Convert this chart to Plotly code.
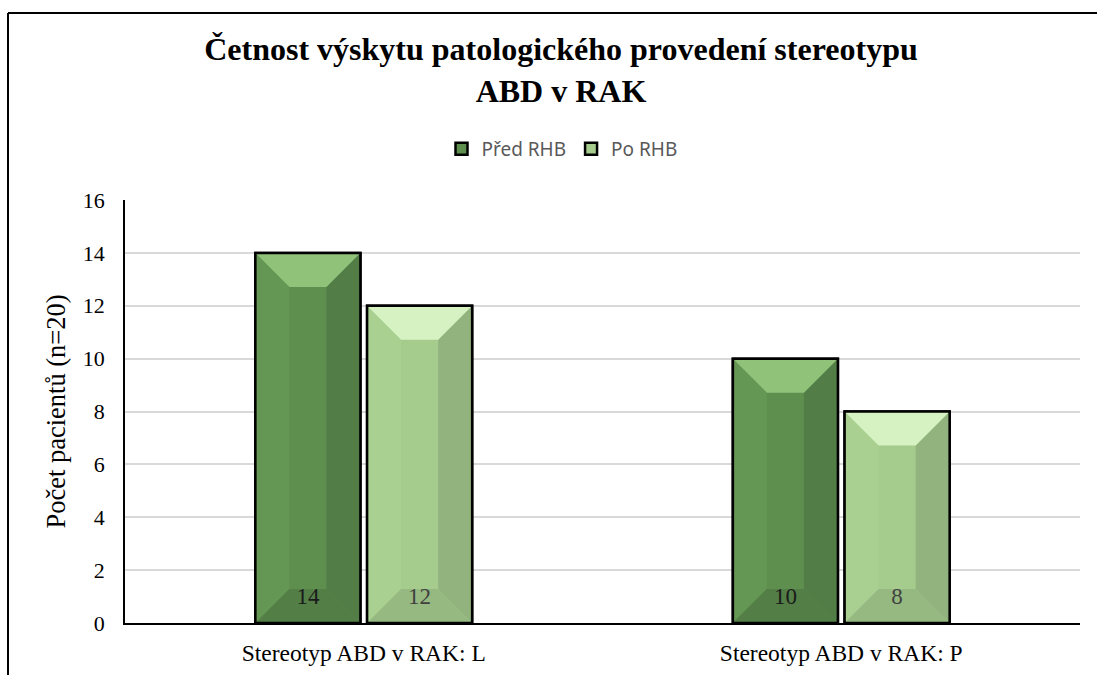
import plotly.graph_objects as go

# ---- data ----
categories = ["Stereotyp ABD v RAK: L", "Stereotyp ABD v RAK: P"]
series_names = ["Před RHB", "Po RHB"]
pred_rhb = [14, 10]
po_rhb = [12, 8]
y_ticks = [0, 2, 4, 6, 8, 10, 12, 14, 16]

# ---- geometry ----
W, H = 1097, 675
MARGIN = dict(l=125, r=17, t=200, b=52, pad=0)
PLOT_W = W - MARGIN["l"] - MARGIN["r"]
PLOT_H = H - MARGIN["t"] - MARGIN["b"]
X_MIN, X_MAX = -0.5, len(categories) - 0.5
Y_MIN, Y_MAX = 0, 16

BAR_W = 0.22
OFFSETS = [-0.227, 0.007]
BEVEL_PX = 34
bev_x = BEVEL_PX * (X_MAX - X_MIN) / PLOT_W
bev_y = BEVEL_PX * (Y_MAX - Y_MIN) / PLOT_H
LABEL_Y = 0.95

SERIF = "Liberation Serif, Times New Roman, serif"
SANS = "Noto Sans, Open Sans, sans-serif"

styles = [
    dict(body="#5e8f4f", top="#90c27a", bottom="#537f47", left="#649654",
         right="#537d47", text="#1a1a1a"),
    dict(body="#a5cc8c", top="#d6f2c2", bottom="#96b982", left="#a9d090",
         right="#92b37e", text="#404040"),
]

fig = go.Figure()


def poly_trace(polys, color):
    xs, ys = [], []
    for p in polys:
        for (px, py) in p + [p[0]]:
            xs.append(px)
            ys.append(py)
        xs.append(None)
        ys.append(None)
    return go.Scatter(x=xs, y=ys, mode="lines", fill="toself", fillcolor=color,
                      line=dict(width=0, color=color), hoverinfo="skip",
                      showlegend=False)


for name, values, off, st in zip(series_names, [pred_rhb, po_rhb], OFFSETS, styles):
    xpos = list(range(len(categories)))
    fig.add_trace(go.Bar(
        name=name, x=xpos, y=values, width=BAR_W, offset=off,
        marker=dict(color=st["body"], line=dict(color="black", width=2.5)),
        hovertext=[f"{c}: {v}" for c, v in zip(categories, values)],
        hoverinfo="text+name",
    ))

    tops, bottoms, lefts, rights, outline_x, outline_y = [], [], [], [], [], []
    for xi, v in zip(xpos, values):
        x0 = xi + off
        x1 = x0 + BAR_W
        tops.append([(x0, v), (x1, v), (x1 - bev_x, v - bev_y), (x0 + bev_x, v - bev_y)])
        bottoms.append([(x0, 0), (x1, 0), (x1 - bev_x, bev_y), (x0 + bev_x, bev_y)])
        lefts.append([(x0, 0), (x0 + bev_x, bev_y), (x0 + bev_x, v - bev_y), (x0, v)])
        rights.append([(x1, 0), (x1 - bev_x, bev_y), (x1 - bev_x, v - bev_y), (x1, v)])
        outline_x += [x0, x1, x1, x0, x0, None]
        outline_y += [0, 0, v, v, 0, None]

    fig.add_trace(poly_trace(lefts, st["left"]))
    fig.add_trace(poly_trace(rights, st["right"]))
    fig.add_trace(poly_trace(tops, st["top"]))
    fig.add_trace(poly_trace(bottoms, st["bottom"]))
    fig.add_trace(go.Scatter(x=outline_x, y=outline_y, mode="lines",
                             line=dict(color="black", width=2.5),
                             hoverinfo="skip", showlegend=False))
    fig.add_trace(go.Scatter(
        x=[xi + off + BAR_W / 2 for xi in xpos], y=[LABEL_Y] * len(values),
        text=[str(v) for v in values], mode="text",
        textfont=dict(family=SERIF, size=23, color=st["text"]),
        hoverinfo="skip", showlegend=False))

# outer chart frame (top and left edges)
fx0 = (8 - MARGIN["l"]) / PLOT_W
fx1 = (W + 5 - MARGIN["l"]) / PLOT_W
fy_top = (H - MARGIN["b"] - 13) / PLOT_H
fy_bot = (H - MARGIN["b"] - H - 5) / PLOT_H
fig.add_shape(type="line", xref="paper", yref="paper", x0=fx0, x1=fx1,
              y0=fy_top, y1=fy_top, line=dict(color="black", width=2))
fig.add_shape(type="line", xref="paper", yref="paper", x0=fx0, x1=fx0,
              y0=fy_top, y1=fy_bot, line=dict(color="black", width=2))

fig.update_layout(
    width=W, height=H, margin=MARGIN,
    paper_bgcolor="white", plot_bgcolor="white",
    barmode="overlay",
    title=dict(
        text="<b>Četnost výskytu patologického provedení stereotypu<br>ABD v RAK</b>",
        font=dict(family=SERIF, size=32, color="black"),
        xref="container", x=561 / W, xanchor="center",
        yref="container", y=1 - 60 / H, yanchor="middle",
        automargin=False,
    ),
    legend=dict(
        orientation="h", xref="container", x=562 / W, xanchor="center",
        yref="container", y=1 - 149 / H, yanchor="middle",
        font=dict(family=SANS, size=19, color="#595959"),
        bgcolor="rgba(0,0,0,0)", itemclick=False,
    ),
    xaxis=dict(
        range=[X_MIN, X_MAX], tickvals=list(range(len(categories))), ticktext=categories,
        showgrid=False, zeroline=False, showline=True, linecolor="black", linewidth=2,
        ticks="outside", ticklen=8, tickcolor="rgba(0,0,0,0)",
        tickfont=dict(family=SERIF, size=23.5, color="black"), fixedrange=True,
        automargin=False,
    ),
    yaxis=dict(
        range=[Y_MIN, Y_MAX], tickvals=y_ticks,
        showgrid=True, gridcolor="#d9d9d9", gridwidth=1.5,
        zeroline=False, showline=True, linecolor="black", linewidth=1.5,
        ticks="outside", ticklen=14, tickcolor="rgba(0,0,0,0)",
        tickfont=dict(family=SERIF, size=22, color="black"),
        title=dict(text="Počet pacientů (n=20)", standoff=10,
                   font=dict(family=SERIF, size=26.5, color="black")),
        fixedrange=True, automargin=False,
    ),
    showlegend=True,
)

fig.write_html("out.html")
